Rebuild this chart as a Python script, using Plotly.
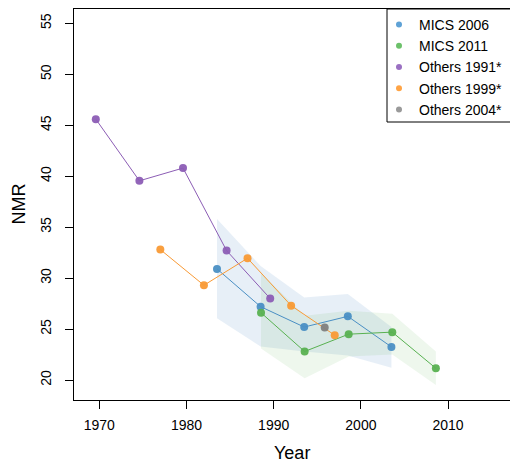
import plotly.graph_objects as go

# ---- data ----
mics2006_year = [1983.5, 1988.5, 1993.5, 1998.5, 2003.5]
mics2006_nmr = [30.9, 27.2, 25.2, 26.25, 23.25]
mics2006_low = [26.06, 23.3, 22.8, 22.4, 21.2]
mics2006_high = [35.8, 31.2, 28.1, 28.45, 25.2]

mics2011_year = [1988.55, 1993.55, 1998.6, 2003.6, 2008.6]
mics2011_nmr = [26.6, 22.8, 24.5, 24.7, 21.15]
mics2011_low = [23.1, 20.17, 22.3, 22.5, 19.5]
mics2011_high = [30.5, 26.3, 26.8, 26.5, 22.8]

others1991_year = [1969.6, 1974.6, 1979.6, 1984.6, 1989.6]
others1991_nmr = [45.6, 39.55, 40.8, 32.7, 28.0]

others1999_year = [1977.0, 1982.0, 1987.0, 1992.0, 1997.0]
others1999_nmr = [32.8, 29.3, 31.95, 27.3, 24.4]

others2004_year = [1995.85]
others2004_nmr = [25.15]

x_ticks = [1970, 1980, 1990, 2000, 2010]
y_ticks = [20, 25, 30, 35, 40, 45, 50, 55]

BLUE = "#4a8fc4"
GREEN = "#58b151"
PURPLE = "#8c5db5"
ORANGE = "#f99a35"
GRAY = "#808080"

LEG_BLUE = "#5fa2d6"
LEG_GREEN = "#6cc16a"
LEG_PURPLE = "#9a70c2"
LEG_ORANGE = "#ffa445"
LEG_GRAY = "#9a9a9a"

fig = go.Figure()

# uncertainty bands
def band(xs, lo, hi, color):
    fig.add_trace(go.Scatter(
        x=list(xs) + list(xs)[::-1], y=list(hi) + list(lo)[::-1],
        fill="toself", fillcolor=color, line=dict(width=0),
        mode="lines", hoverinfo="skip", showlegend=False))

band(mics2006_year, mics2006_low, mics2006_high, "rgba(70,130,195,0.13)")
band(mics2011_year, mics2011_low, mics2011_high, "rgba(90,175,80,0.10)")

series = [
    ("MICS 2006", mics2006_year, mics2006_nmr, BLUE, LEG_BLUE),
    ("MICS 2011", mics2011_year, mics2011_nmr, GREEN, LEG_GREEN),
    ("Others 1991*", others1991_year, others1991_nmr, PURPLE, LEG_PURPLE),
    ("Others 1999*", others1999_year, others1999_nmr, ORANGE, LEG_ORANGE),
    ("Others 2004*", others2004_year, others2004_nmr, GRAY, LEG_GRAY),
]
for name, xs, ys, c, lc in series:
    fig.add_trace(go.Scatter(
        x=xs, y=ys, name=name, mode="lines+markers",
        line=dict(color=c, width=1),
        marker=dict(color=c, size=8, opacity=0.95), showlegend=False))
for name, xs, ys, c, lc in series:
    fig.add_trace(go.Scatter(
        x=[None], y=[None], name=name, mode="markers",
        marker=dict(color=lc, size=6), showlegend=True))

font = "Liberation Sans, Arial, Helvetica, sans-serif"

fig.update_layout(
    width=510, height=465,
    margin=dict(l=74, r=0, t=9, b=65),
    paper_bgcolor="white", plot_bgcolor="white",
    font=dict(family=font, size=14, color="black"),
    showlegend=True,
    legend=dict(x=(379 - 74) / 436, y=1.0, xanchor="left", yanchor="top",
                bgcolor="rgba(0,0,0,0)", borderwidth=0,
                font=dict(size=14, family=font, color="black")),
    xaxis=dict(range=[1967.1, 2017.1], tickvals=x_ticks, ticks="outside", ticklen=8,
               tickcolor="black", showgrid=False, zeroline=False, showline=True,
               linecolor="black", linewidth=1, mirror=True,
               tickfont=dict(size=14), ticklabelstandoff=4),
    yaxis=dict(range=[18.04, 56.41], tickvals=y_ticks, ticks="outside", ticklen=8,
               tickcolor="black", showgrid=False, zeroline=False, showline=True,
               linecolor="black", linewidth=1, tickangle=-90,
               tickfont=dict(size=14), ticklabelstandoff=8),
    annotations=[
        dict(text="Year", xref="paper", yref="paper", x=0.5, y=0, yshift=-53,
             xanchor="center", yanchor="middle", showarrow=False, font=dict(size=18)),
        dict(text="NMR", xref="paper", yref="paper", x=0, y=0.5, xshift=-56,
             xanchor="center", yanchor="middle", textangle=-90, showarrow=False,
             font=dict(size=18)),
    ],
    shapes=[dict(type="rect", xref="paper", yref="paper",
                 x0=(387 - 74) / 436, x1=1.2, y0=(400 - 122) / 391, y1=1.0,
                 line=dict(color="black", width=1), fillcolor="rgba(0,0,0,0)")],
)

fig.write_html("out.html", config={"displayModeBar": False},
               post_script="document.body.style.margin='0';")
